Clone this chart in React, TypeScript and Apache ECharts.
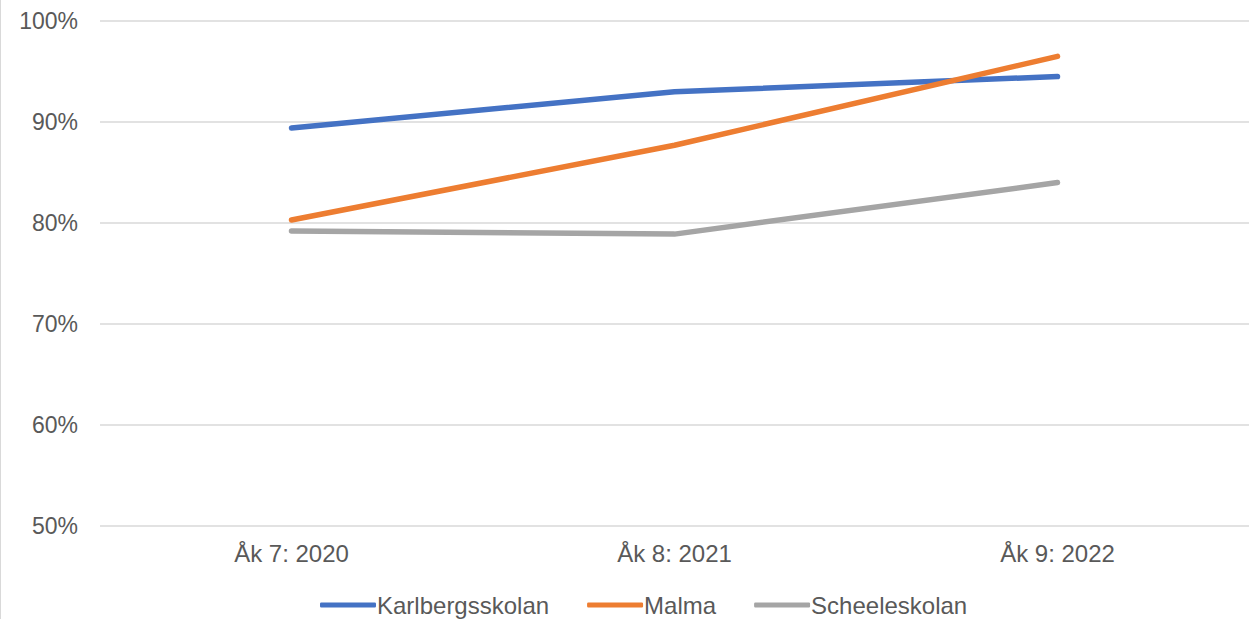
import React, { useEffect, useRef } from "react";
import * as echarts from "echarts";

const categories = ["Åk 7: 2020", "Åk 8: 2021", "Åk 9: 2022"];
const karlbergsskolan = [89.4, 93.0, 94.5];
const malma = [80.3, 87.7, 96.5];
const scheeleskolan = [79.2, 78.9, 84.0];
const seriesNames = ["Karlbergsskolan", "Malma", "Scheeleskolan"];
const colors = ["#4472C4", "#ED7D31", "#A5A5A5"];

const FONT = '"Liberation Sans", Arial, sans-serif';
const TEXT_COLOR = "#595959";

export default function App() {
  const ref = useRef<HTMLDivElement>(null);
  useEffect(() => {
    if (!ref.current) return;
    const chart = echarts.init(ref.current, undefined, { renderer: "svg" });
    const data = [karlbergsskolan, malma, scheeleskolan];
    chart.setOption({
      animation: false,
      backgroundColor: "#ffffff",
      color: colors,
      grid: { left: 100, right: 2, top: 21, bottom: 93, containLabel: false },
      legend: {
        left: 320,
        top: 593,
        padding: 0,
        itemWidth: 56,
        itemHeight: 5,
        itemGap: 38,
        icon: "roundRect",
        textStyle: { fontFamily: FONT, fontSize: 24, color: TEXT_COLOR, padding: [0, 0, 0, -4] },
        data: seriesNames,
      },
      xAxis: {
        type: "category",
        data: categories,
        boundaryGap: true,
        axisLine: { show: false },
        axisTick: { show: false },
        axisLabel: { fontFamily: FONT, fontSize: 24, color: TEXT_COLOR, margin: 15 },
      },
      yAxis: {
        type: "value",
        min: 50,
        max: 100,
        interval: 10,
        axisLine: { show: false },
        axisTick: { show: false },
        axisLabel: {
          fontFamily: FONT,
          fontSize: 23,
          color: TEXT_COLOR,
          margin: 22,
          formatter: "{value}%",
        },
        splitLine: { show: true, lineStyle: { color: "#D9D9D9", width: 1.5 } },
      },
      graphic: [
        {
          type: "line",
          shape: { x1: 0.5, y1: 0, x2: 0.5, y2: 619 },
          style: { stroke: "#D9D9D9", lineWidth: 1 },
        },
      ],
      series: data.map((d, i) => ({
        name: seriesNames[i],
        type: "line",
        data: d,
        showSymbol: false,
        symbol: "none",
        lineStyle: { width: 5.5, color: colors[i], cap: "round", join: "round" },
        itemStyle: { color: colors[i] },
      })),
    });
    return () => chart.dispose();
  }, []);
  return (
    <div
      ref={ref}
      style={{ position: "absolute", left: 0, top: 0, width: 1251, height: 619 }}
    />
  );
}
